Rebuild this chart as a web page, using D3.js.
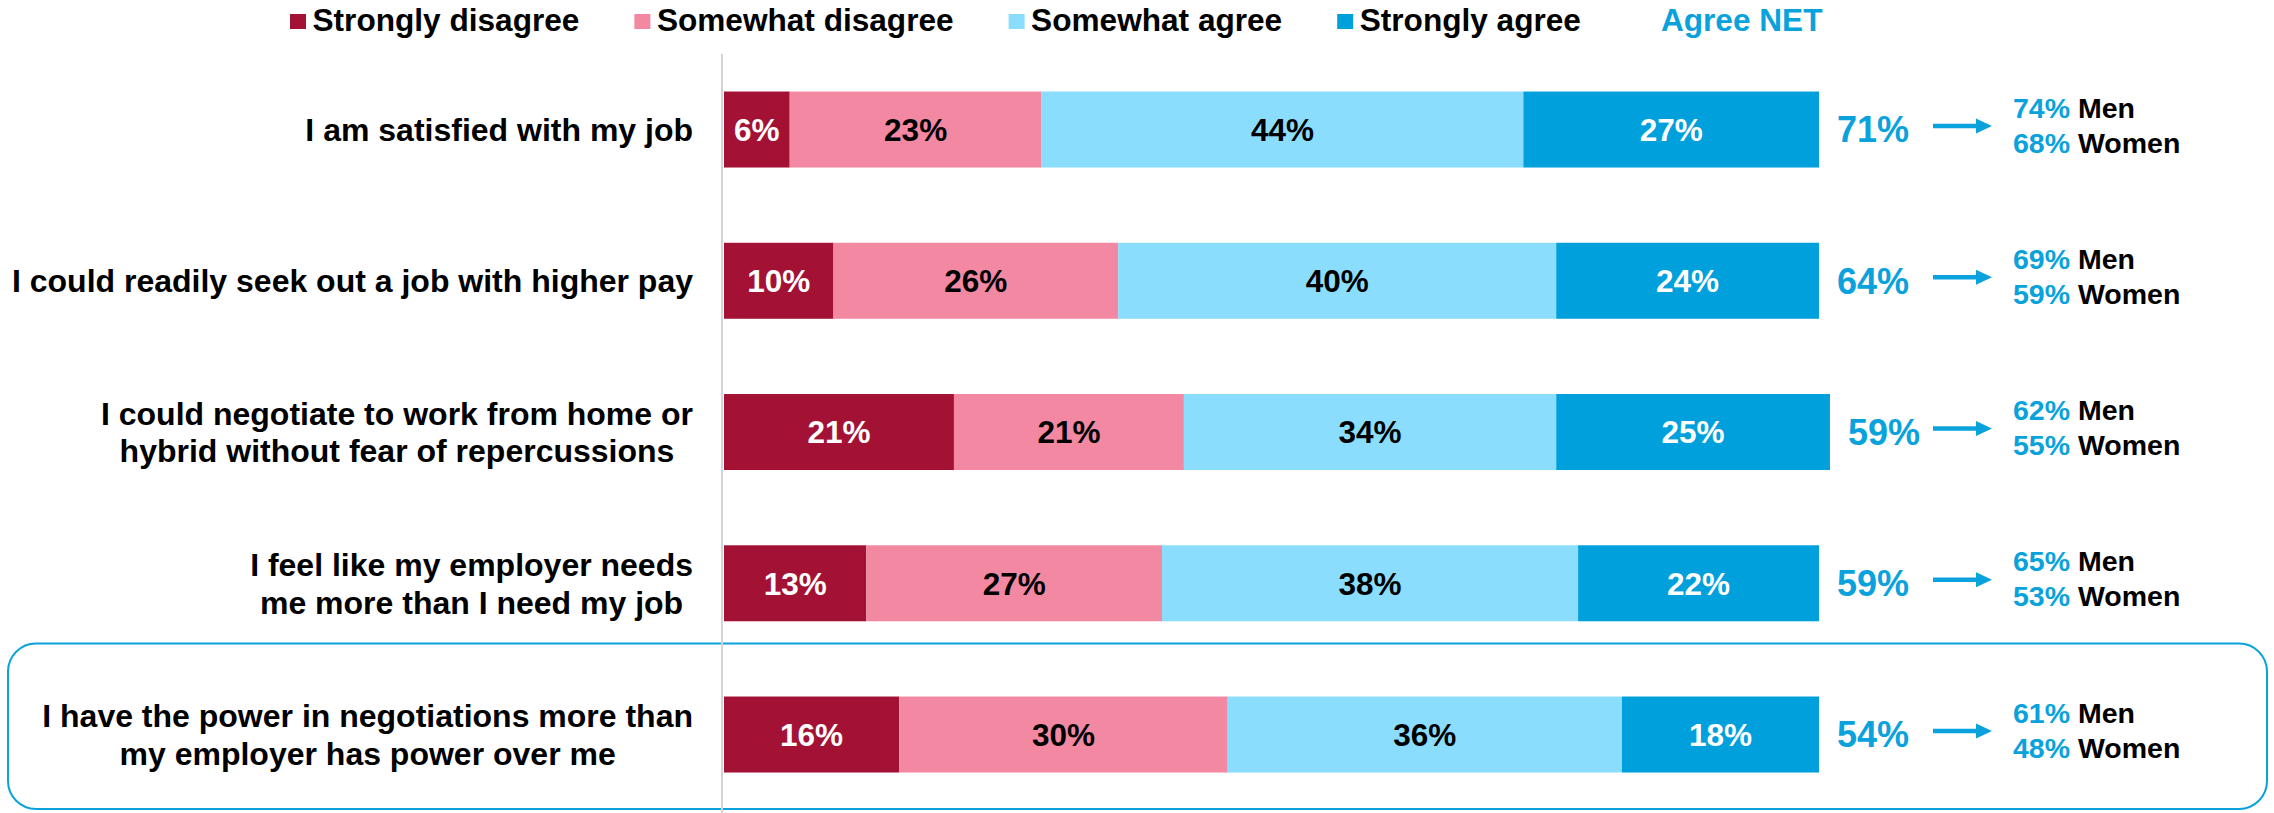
<!DOCTYPE html>
<html>
<head>
<meta charset="utf-8">
<script src="https://cdn.jsdelivr.net/npm/d3@7"></script>
<style>
  html, body { margin: 0; padding: 0; background: #ffffff; }
  svg { display: block; }
  text { font-family: "Liberation Sans", Arial, sans-serif; font-weight: bold; }
</style>
</head>
<body>
<svg id="chart" width="2274" height="813"></svg>
<script>
// ---------- data ----------
const categories = [
  "I am satisfied with my job",
  "I could readily seek out a job with higher pay",
  "I could negotiate to work from home or\nhybrid without fear of repercussions",
  "I feel like my employer needs\nme more than I need my job",
  "I have the power in negotiations more than\nmy employer has power over me"
];
const seriesNames = ["Strongly disagree", "Somewhat disagree", "Somewhat agree", "Strongly agree"];
const stronglyDisagree = [6, 10, 21, 13, 16];
const somewhatDisagree = [23, 26, 21, 27, 30];
const somewhatAgree    = [44, 40, 34, 38, 36];
const stronglyAgree    = [27, 24, 25, 22, 18];
const agreeNet = [71, 64, 59, 59, 54];
const menNet   = [74, 69, 62, 65, 61];
const womenNet = [68, 59, 55, 53, 48];
const netLegendLabel = "Agree NET";
const highlightedCategory = categories[4];

// ---------- styles ----------
const colors = ["#A31235", "#F388A2", "#8BDDFD", "#00A0DC"];
const labelColors = ["#ffffff", "#000000", "#000000", "#ffffff"];
const blue = "#0AA2DD";

const svg = d3.select("#chart");

// ---------- table built from arrays ----------
const rows = categories.map((c, i) => ({
  cat: c,
  vals: [stronglyDisagree[i], somewhatDisagree[i], somewhatAgree[i], stronglyAgree[i]],
  net: agreeNet[i], men: menNet[i], women: womenNet[i]
}));
rows.forEach(r => {
  let acc = 0;
  r.segs = r.vals.map((v, k) => { const s = {k, v, x0: acc, x1: acc + v}; acc += v; return s; });
  r.total = acc;
});

// ---------- scales ----------
const x = d3.scaleLinear().domain([0, 100]).range([724, 1819]);
const y = d3.scaleBand().domain(categories)
  .range([53.9, 810.15]).paddingInner(0.4975).paddingOuter(0.24875);
const bw = y.bandwidth();

// ---------- highlight box ----------
const hy = y(highlightedCategory);
svg.append("rect")
  .attr("x", 8).attr("y", hy - 53)
  .attr("width", 2259).attr("height", (bw + 37.5) + 53 - 1)
  .attr("rx", 28).attr("ry", 28)
  .attr("fill", "none").attr("stroke", blue).attr("stroke-width", 2);

// ---------- axis line ----------
svg.append("line")
  .attr("x1", 722).attr("x2", 722).attr("y1", 54).attr("y2", 813)
  .attr("stroke", "#d4d4d4").attr("stroke-width", 2);

// ---------- legend ----------
const legend = svg.append("g");
let lx = 290;
seriesNames.forEach((name, k) => {
  legend.append("rect").attr("x", lx).attr("y", 14).attr("width", 16).attr("height", 15)
    .attr("fill", colors[k]);
  const t = legend.append("text").attr("x", lx + 22.5).attr("y", 30.5)
    .attr("font-size", 31.6).attr("fill", "#000").text(name);
  lx = lx + 22.5 + t.node().getComputedTextLength() + (k < seriesNames.length - 1 ? 55 : 80);
});
legend.append("text").attr("x", lx).attr("y", 30.5)
  .attr("font-size", 31.6).attr("fill", blue).text(netLegendLabel);

// ---------- rows ----------
const g = svg.selectAll("g.row").data(rows).join("g").attr("class", "row");

// bars
g.selectAll("rect.seg").data(d => d.segs.map(s => ({...s, cat: d.cat})))
  .join("rect").attr("class", "seg")
  .attr("x", s => x(s.x0)).attr("width", s => x(s.x1) - x(s.x0))
  .attr("y", s => y(s.cat)).attr("height", bw)
  .attr("fill", s => colors[s.k]);

// bar labels
g.selectAll("text.val").data(d => d.segs.map(s => ({...s, cat: d.cat})))
  .join("text").attr("class", "val")
  .attr("x", s => (x(s.x0) + x(s.x1)) / 2)
  .attr("y", s => y(s.cat) + bw / 2)
  .attr("dy", "0.36em")
  .attr("text-anchor", "middle")
  .attr("font-size", 31.5)
  .attr("fill", s => labelColors[s.k])
  .text(s => s.v + "%");

// category labels (centred block, right edge at 693)
g.each(function(d) {
  const lines = d.cat.split("\n");
  const cy = y(d.cat) + bw / 2;
  const lh = 37.5;
  const t = d3.select(this).append("text")
    .attr("font-size", 32).attr("fill", "#000").attr("text-anchor", "middle");
  const spans = lines.map((ln, i) => t.append("tspan")
    .attr("y", cy + (i - (lines.length - 1) / 2) * lh)
    .attr("dy", "0.36em").text(ln));
  let maxW = 0;
  spans.forEach(s => { maxW = Math.max(maxW, s.node().getComputedTextLength()); });
  spans.forEach(s => s.attr("x", 693 - maxW / 2));
});

// NET value
g.append("text")
  .attr("x", d => x(d.total) + 18)
  .attr("y", d => y(d.cat) + bw / 2)
  .attr("dy", "0.36em")
  .attr("font-size", 36).attr("fill", blue)
  .text(d => d.net + "%");

// arrow
g.append("line")
  .attr("x1", 1933).attr("x2", 1978)
  .attr("y1", d => y(d.cat) + bw / 2 - 3.5).attr("y2", d => y(d.cat) + bw / 2 - 3.5)
  .attr("stroke", blue).attr("stroke-width", 4.5);
g.append("path")
  .attr("d", d => {
    const cy = y(d.cat) + bw / 2 - 3.5;
    return `M1976,${cy - 7.5}L1992,${cy}L1976,${cy + 7.5}Z`;
  })
  .attr("fill", blue);

// Men / Women breakdown
const mw = g.append("g");
mw.append("text")
  .attr("x", 2013).attr("y", d => y(d.cat) + bw / 2 - 12)
  .attr("font-size", 28.5)
  .call(t => {
    t.append("tspan").attr("fill", blue).text(d => d.men + "%");
    t.append("tspan").attr("fill", "#000").text(" Men");
  });
mw.append("text")
  .attr("x", 2013).attr("y", d => y(d.cat) + bw / 2 + 23)
  .attr("font-size", 28.5)
  .call(t => {
    t.append("tspan").attr("fill", blue).text(d => d.women + "%");
    t.append("tspan").attr("fill", "#000").text(" Women");
  });
</script>
</body>
</html>
